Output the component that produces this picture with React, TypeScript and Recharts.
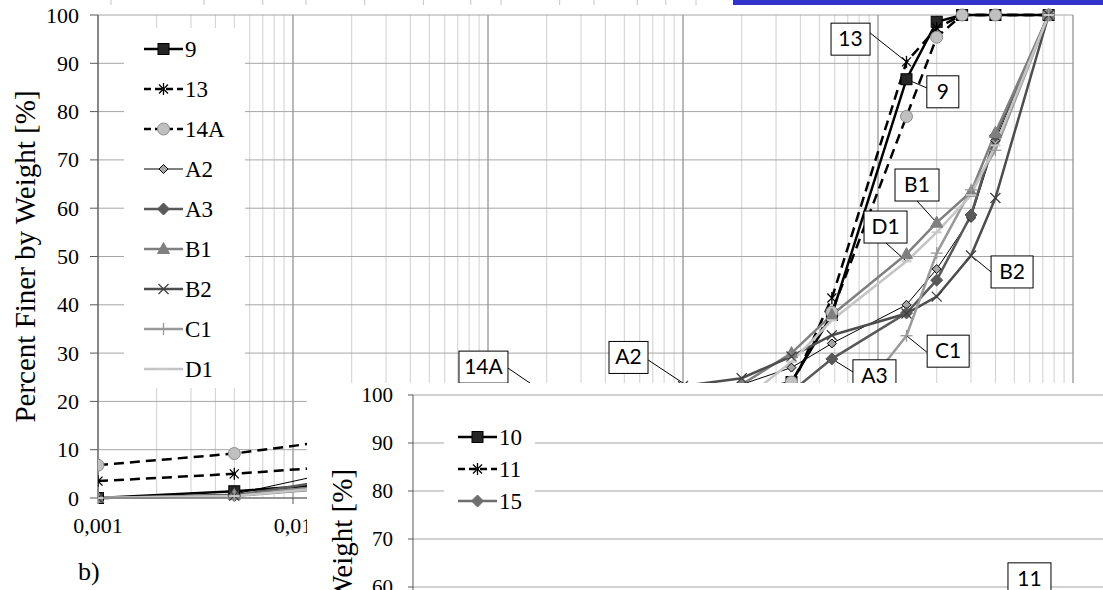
import React from 'react';
import { LineChart, Line, XAxis, YAxis, CartesianGrid, ReferenceLine, ReferenceDot, Legend } from 'recharts';

// ---------- data ----------
const DECADES = [0.001, 0.01, 0.1, 1, 10, 100];
const MULTS = [1, 2, 3, 4, 5, 6, 7, 8, 9];
const Y_TICKS = [0, 10, 20, 30, 40, 50, 60, 70, 80, 90, 100];
const Y_TICKS_LOWER = [60, 70, 80, 90, 100];

const SIEVE_FINE = [0.001, 0.005, 0.063, 0.25, 1, 2, 3.6, 5.8, 14, 20, 27, 40, 75];
const SIEVE_COARSE = [0.001, 0.005, 0.063, 0.25, 1, 2, 3.6, 5.8, 14, 20, 30, 40, 75];

const S9 = [0, 1.4, 4.5, 9, 14, 19, 24, 37.9, 86.7, 98.6, 100, 100, 100];
const S13 = [3.5, 5.0, 8.2, 12, 16, 20, 23, 41.4, 90.3, 97.3, 100, 100, 100];
const S14A = [6.8, 9.2, 15, 18, 20, 22, 24, 38.5, 79, 95.4, 100, 100, 100];
const SA2 = [0, 0.8, 10.5, 15, 21, 23.5, 27, 32, 40, 47.4, 58, 74, 100];
const SA3 = [0, 0.5, 7.5, 11, 15, 18, 22, 28.8, 38.3, 45.1, 58.6, 75, 100];
const SB1 = [0, 0.6, 5, 10, 17, 23.5, 30, 37.9, 50.5, 57, 63.4, 75.6, 100];
const SB2 = [0, 0.5, 4, 12, 23.2, 24.8, 29.3, 33.7, 38.2, 41.7, 50.2, 62.1, 100];
const SC1 = [0, 0.4, 4, 7, 9, 11, 12, 14, 33.6, 50.7, 63.8, 72, 100];
const SD1 = [0, 0.4, 4.5, 9, 15, 20, 28.2, 36.8, 49, 55, 62.7, 73, 100];

const S10 = [0, 1.2, 5, 10, 15, 20, 26, 42, 88, 99, 100, 100, 100];
const S11 = [2.5, 4.0, 7, 11, 15, 19, 24, 40, 86, 97, 100, 100, 100];
const S15 = [0, 0.5, 4, 8, 14, 19, 25, 33, 50, 62, 78, 90, 100];

const MAIN_NOTES = [
  { text: '13', cx: 7.23, cy: 95.0, w: 39, lx: 9.1, ly: 96.3, tx: 14, ty: 90.3 },
  { text: '9', cx: 21.5, cy: 84.1, w: 32, lx: 17.8, ly: 84.9, tx: 14, ty: 86.7 },
  { text: 'B1', cx: 15.85, cy: 64.8, w: 44, lx: 15.85, ly: 61.5, tx: 20, ty: 57 },
  { text: 'D1', cx: 10.93, cy: 56.1, w: 43, lx: 10.99, ly: 52.8, tx: 14, ty: 49 },
  { text: 'B2', cx: 48.7, cy: 46.8, w: 42, lx: 38.0, ly: 46.8, tx: 30, ty: 50.2 },
  { text: 'C1', cx: 22.9, cy: 30.4, w: 42, lx: 17.8, ly: 30.2, tx: 14, ty: 33.6 },
  { text: 'A3', cx: 9.59, cy: 25.3, w: 43, lx: 7.44, ly: 26.1, tx: 5.8, ty: 28.8 },
  { text: 'A2', cx: 0.5255, cy: 29.1, w: 39, lx: 0.661, ly: 28.6, tx: 1.24, ty: 21.3 },
  { text: '14A', cx: 0.0948, cy: 27.1, w: 49, lx: 0.1266, ly: 26.9, tx: 0.202, ty: 21.3 },
];
const LOWER_NOTES = [{ text: '11', cx: 1.45, cy: 61.7, w: 43 }];

// ---------- helpers ----------
const GRID_X = DECADES.slice(0, -1)
  .flatMap((d) => MULTS.map((m) => +(d * m).toPrecision(3)))
  .concat([100]);
const toPts = (xs: number[], ys: number[]) => xs.map((x, i) => ({ x, y: ys[i] }));
const fmtX = (v: number) => String(v).replace('.', ',');
const SERIF = "'Liberation Serif', 'Times New Roman', serif";

type MT = 'square' | 'star' | 'circle' | 'diamondS' | 'diamond' | 'diamondG' | 'triangle' | 'x' | 'plus' | 'dash';

function Marker({ type, cx, cy }: { type: MT; cx: number; cy: number }) {
  if (cx == null || cy == null || isNaN(cx) || isNaN(cy)) return null;
  switch (type) {
    case 'square':
      return <rect x={cx - 5.5} y={cy - 5.5} width={11} height={11} fill="#262626" stroke="#000" strokeWidth={1} />;
    case 'star':
      return (
        <g stroke="#000" strokeWidth={1.3}>
          <line x1={cx - 4.5} y1={cy - 4.5} x2={cx + 4.5} y2={cy + 4.5} />
          <line x1={cx - 4.5} y1={cy + 4.5} x2={cx + 4.5} y2={cy - 4.5} />
          <line x1={cx} y1={cy - 6} x2={cx} y2={cy + 6} />
        </g>
      );
    case 'circle':
      return <circle cx={cx} cy={cy} r={6} fill="#c0c0c0" stroke="#8c8c8c" strokeWidth={1} />;
    case 'diamondS':
      return <polygon points={`${cx},${cy - 4.5} ${cx + 4.5},${cy} ${cx},${cy + 4.5} ${cx - 4.5},${cy}`} fill="#a6a6a6" stroke="#000" strokeWidth={1} />;
    case 'diamond':
      return <polygon points={`${cx},${cy - 6} ${cx + 6},${cy} ${cx},${cy + 6} ${cx - 6},${cy}`} fill="#595959" stroke="#595959" />;
    case 'diamondG':
      return <polygon points={`${cx},${cy - 6} ${cx + 6},${cy} ${cx},${cy + 6} ${cx - 6},${cy}`} fill="#6e6e6e" stroke="#6e6e6e" />;
    case 'triangle':
      return <polygon points={`${cx},${cy - 6.5} ${cx + 6},${cy + 4.5} ${cx - 6},${cy + 4.5}`} fill="#7f7f7f" stroke="#7f7f7f" />;
    case 'x':
      return (
        <g stroke="#404040" strokeWidth={1.3}>
          <line x1={cx - 5} y1={cy - 5} x2={cx + 5} y2={cy + 5} />
          <line x1={cx - 5} y1={cy + 5} x2={cx + 5} y2={cy - 5} />
        </g>
      );
    case 'plus':
      return (
        <g stroke="#999999" strokeWidth={1.3}>
          <line x1={cx} y1={cy - 6} x2={cx} y2={cy + 6} />
          <line x1={cx - 6} y1={cy} x2={cx + 6} y2={cy} />
        </g>
      );
    case 'dash':
      return <line x1={cx - 5} y1={cy} x2={cx + 5} y2={cy} stroke="#c8c8c8" strokeWidth={2} />;
  }
  return null;
}

interface Series { name: string; data: { x: number; y: number }[]; stroke: string; width: number; dash?: string; marker: MT; }

const MAIN_SERIES: Series[] = [
  { name: '9', data: toPts(SIEVE_FINE, S9), stroke: '#000', width: 2.5, marker: 'square' },
  { name: '13', data: toPts(SIEVE_FINE, S13), stroke: '#000', width: 2.5, dash: '10 6', marker: 'star' },
  { name: '14A', data: toPts(SIEVE_FINE, S14A), stroke: '#000', width: 2.5, dash: '10 6', marker: 'circle' },
  { name: 'A2', data: toPts(SIEVE_COARSE, SA2), stroke: '#000', width: 1, marker: 'diamondS' },
  { name: 'A3', data: toPts(SIEVE_COARSE, SA3), stroke: '#595959', width: 2.5, marker: 'diamond' },
  { name: 'B1', data: toPts(SIEVE_COARSE, SB1), stroke: '#7f7f7f', width: 2.5, marker: 'triangle' },
  { name: 'B2', data: toPts(SIEVE_COARSE, SB2), stroke: '#4d4d4d', width: 2.5, marker: 'x' },
  { name: 'C1', data: toPts(SIEVE_COARSE, SC1), stroke: '#999999', width: 2.5, marker: 'plus' },
  { name: 'D1', data: toPts(SIEVE_COARSE, SD1), stroke: '#c4c4c4', width: 2.5, marker: 'dash' },
];

const LOWER_SERIES: Series[] = [
  { name: '10', data: toPts(SIEVE_FINE, S10), stroke: '#000', width: 2.5, marker: 'square' },
  { name: '11', data: toPts(SIEVE_FINE, S11), stroke: '#000', width: 2.5, dash: '10 6', marker: 'star' },
  { name: '15', data: toPts(SIEVE_COARSE, S15), stroke: '#6e6e6e', width: 2.5, marker: 'diamondG' },
];

function LegendBox({ items, w, h, rowH, padTop, padLeft }: { items: Series[]; w: number; h: number; rowH: number; padTop: number; padLeft: number }) {
  return (
    <div style={{ width: w, height: h, background: '#fff', paddingTop: padTop, boxSizing: 'border-box', fontFamily: SERIF }}>
      {items.map((s) => (
        <div key={s.name} style={{ display: 'flex', alignItems: 'center', height: rowH }}>
          <svg width={39} height={16} style={{ marginLeft: padLeft, display: 'block' }}>
            <line x1={0} y1={8} x2={39} y2={8} stroke={s.stroke} strokeWidth={s.width} strokeDasharray={s.dash ? '7 4' : undefined} />
            <Marker type={s.marker} cx={19.5} cy={8} />
          </svg>
          <span style={{ fontFamily: SERIF, fontSize: 23, marginLeft: 2, lineHeight: '23px', color: '#000' }}>{s.name}</span>
        </div>
      ))}
    </div>
  );
}

function makeBox(text: string, w: number) {
  return (p: any) => {
    const { cx, cy } = p;
    if (cx == null || cy == null) return <g />;
    return (
      <g>
        <rect x={cx - w / 2} y={cy - 16} width={w} height={32} fill="#fff" stroke="#000" strokeWidth={1} />
        <text x={cx} y={cy + 7} textAnchor="middle" style={{ fontFamily: 'Lato, sans-serif', fontSize: 21 }} fill="#000">{text}</text>
      </g>
    );
  };
}

function makeYTick(size: number) {
  return (p: any) => (
    <text x={p.x} y={p.y} textAnchor="end" dominantBaseline="central" fill="#000" style={{ fontFamily: SERIF, fontSize: size }}>
      {p.payload.value}
    </text>
  );
}

function makeXTick(size: number) {
  return (p: any) => (
    <text x={p.x} y={p.y} dy="0.71em" textAnchor="middle" fill="#000" style={{ fontFamily: SERIF, fontSize: size }}>
      {fmtX(p.payload.value)}
    </text>
  );
}

function renderLines(list: Series[]) {
  return list.map((s) => (
    <Line
      key={s.name}
      name={s.name}
      data={s.data}
      dataKey="y"
      type="linear"
      stroke={s.stroke}
      strokeWidth={s.width}
      strokeDasharray={s.dash}
      isAnimationActive={false}
      activeDot={false}
      dot={(p: any) => <Marker key={`${s.name}-${p.index}`} type={s.marker} cx={p.cx} cy={p.cy} />}
    />
  ));
}

export default function App() {
  return (
    <div style={{ position: 'absolute', left: 0, top: 0, width: 1103, height: 590, overflow: 'hidden', background: '#fff', fontFamily: SERIF }}>
      {/* strip of the chart above */}
      <div style={{ position: 'absolute', left: 0, top: 0 }}>
        <LineChart width={1103} height={5} margin={{ top: 0, right: 17, left: 111, bottom: 0 }}>
          <XAxis hide dataKey="x" type="number" scale="log" domain={[0.001, 100]} allowDataOverflow />
          <YAxis hide domain={[0, 1]} />
          <CartesianGrid horizontal={false} verticalValues={GRID_X} stroke="#c4c4c4" />
        </LineChart>
      </div>
      <div style={{ position: 'absolute', left: 733, top: 0, width: 370, height: 5, background: '#3333cc' }} />

      {/* main chart */}
      <div style={{ position: 'absolute', left: 0, top: 0 }}>
        <LineChart width={1103} height={590} margin={{ top: 15, right: 30, left: 0, bottom: 52 }}>
          <CartesianGrid horizontal={false} verticalValues={GRID_X} stroke="#d0d0d0" />
          <CartesianGrid vertical={false} stroke="#a6a6a6" />
          <CartesianGrid horizontal={false} verticalValues={DECADES} stroke="#8c8c8c" />
          <XAxis
            dataKey="x"
            type="number"
            scale="log"
            domain={[0.001, 100]}
            allowDataOverflow
            ticks={DECADES}
            interval={0}
            height={40}
            tickSize={6}
            tickMargin={13}
            axisLine={{ stroke: '#595959' }}
            tickLine={{ stroke: '#595959' }}
            tick={makeXTick(22)}
          />
          <YAxis
            type="number"
            domain={[0, 100]}
            ticks={Y_TICKS}
            interval={0}
            width={98}
            tickSize={8}
            tickMargin={11}
            axisLine={{ stroke: '#595959' }}
            tickLine={{ stroke: '#595959' }}
            tick={makeYTick(22)}
            label={{ value: 'Percent Finer by Weight [%]', angle: -90, position: 'center', dx: -24, style: { fontFamily: SERIF, fontSize: 29, fill: '#000', textAnchor: 'middle' } }}
          />
          {renderLines(MAIN_SERIES)}
          {MAIN_NOTES.map((a) => (
            <ReferenceLine key={`l${a.text}`} segment={[{ x: a.lx, y: a.ly }, { x: a.tx, y: a.ty }]} stroke="#000" strokeWidth={1} ifOverflow="visible" />
          ))}
          {MAIN_NOTES.map((a) => (
            <ReferenceDot key={`d${a.text}`} x={a.cx} y={a.cy} r={0} ifOverflow="visible" shape={makeBox(a.text, a.w)} />
          ))}
          <Legend
            layout="vertical"
            align="center"
            verticalAlign="middle"
            wrapperStyle={{ left: 124, top: 28, width: 121, height: 360 }}
            content={() => <LegendBox items={MAIN_SERIES} w={121} h={360} rowH={40} padTop={1} padLeft={20} />}
          />
        </LineChart>
      </div>

      <div style={{ position: 'absolute', left: 78, top: 559, fontFamily: SERIF, fontSize: 26, lineHeight: '26px', color: '#000' }}>b)</div>

      {/* lower chart, overlapping */}
      <div style={{ position: 'absolute', left: 307, top: 383, width: 796, height: 207, overflow: 'hidden', background: '#fff' }}>
        <LineChart width={1091} height={552} margin={{ top: 12, right: 10, left: 0, bottom: 0 }}>
          <CartesianGrid horizontal={false} verticalValues={GRID_X} stroke="#d0d0d0" />
          <CartesianGrid vertical={false} stroke="#a6a6a6" />
          <CartesianGrid horizontal={false} verticalValues={DECADES} stroke="#8c8c8c" />
          <XAxis
            dataKey="x"
            type="number"
            scale="log"
            domain={[0.001, 100]}
            allowDataOverflow
            ticks={DECADES}
            interval={0}
            height={60}
            tick={false}
            axisLine={{ stroke: '#595959' }}
            tickLine={{ stroke: '#595959' }}
          />
          <YAxis
            type="number"
            domain={[0, 100]}
            ticks={Y_TICKS_LOWER}
            interval={0}
            width={106}
            tickSize={5}
            tickMargin={15}
            axisLine={{ stroke: '#595959' }}
            tickLine={{ stroke: '#595959' }}
            tick={makeYTick(21)}
            label={{ value: 'Percent Finer by Weight [%]', angle: -90, position: 'center', dx: -18, style: { fontFamily: SERIF, fontSize: 29, fill: '#000', textAnchor: 'middle' } }}
          />
          {renderLines(LOWER_SERIES)}
          {LOWER_NOTES.map((a) => (
            <ReferenceDot key={`d${a.text}`} x={a.cx} y={a.cy} r={0} ifOverflow="visible" shape={makeBox(a.text, a.w)} />
          ))}
          <Legend
            layout="vertical"
            align="center"
            verticalAlign="middle"
            wrapperStyle={{ left: 137, top: 35, width: 91, height: 100 }}
            content={() => <LegendBox items={LOWER_SERIES} w={91} h={100} rowH={32} padTop={3} padLeft={14} />}
          />
        </LineChart>
      </div>
    </div>
  );
}
